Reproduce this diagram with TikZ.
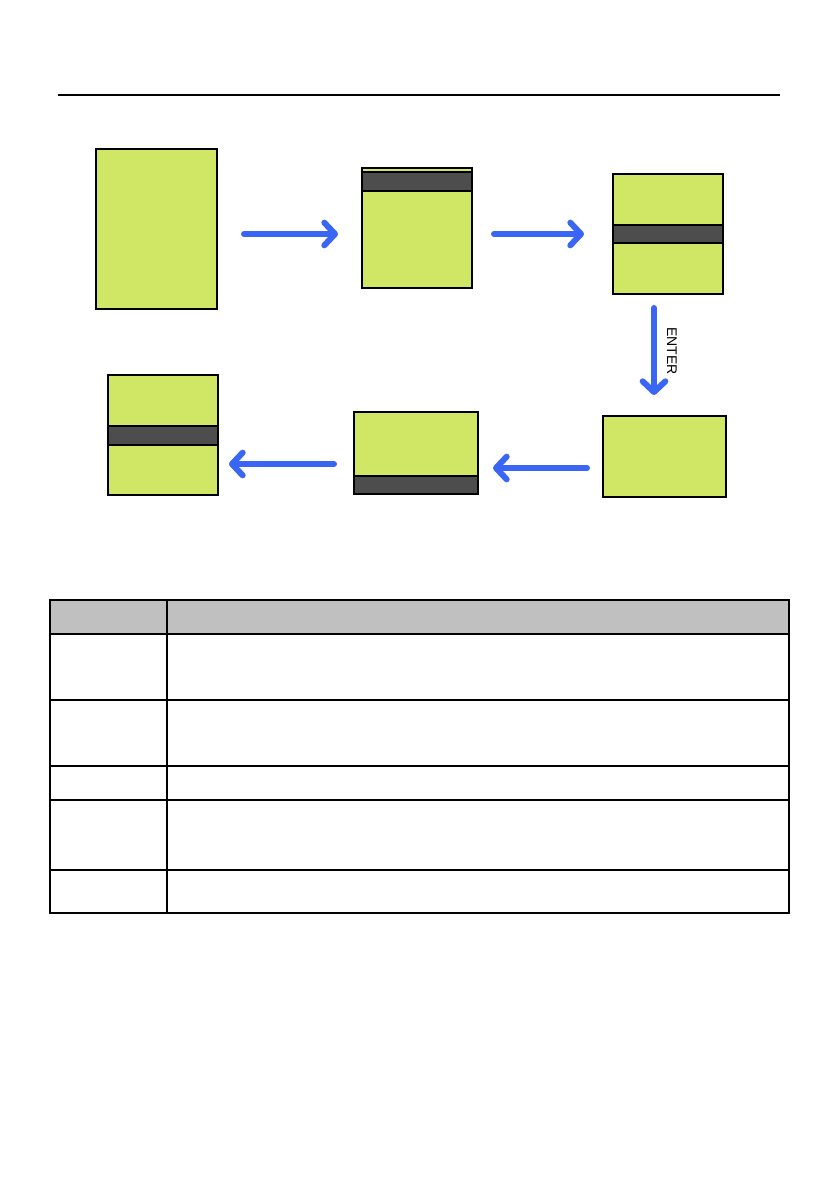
\documentclass[tikz,border=0pt]{standalone}
\usepackage{fontspec}
\setsansfont{Liberation Sans}
\usetikzlibrary{arrows.meta,calc,positioning}
\definecolor{lcdgreen}{RGB}{208,230,101}
\definecolor{lcdbar}{RGB}{77,77,77}
\definecolor{flowblue}{RGB}{58,102,245}
\definecolor{headgray}{RGB}{192,192,192}
\newcommand{\px}{0.75pt}

\begin{document}
\begin{tikzpicture}[x=0.75pt,y=-0.75pt,
    screen/.style={draw=black,line width=0.9pt,fill=lcdgreen,inner sep=0pt,
      outer sep=0pt,anchor=north west},
    lcdbarbox/.style={draw=black,line width=0.9pt,fill=lcdbar,inner sep=0pt,
      outer sep=0pt,anchor=north west},
    flow/.style={draw=flowblue,line width=4.5pt,line cap=round,
      -{Straight Barb[round,length=8pt,width=17pt]}},
    tbl/.style={line width=1pt}]
    \useasboundingbox (0,0) rectangle (839,1191);
    % header rule
    \draw[line width=1pt] (58,95) -- (780,95);
    % screens
    \node[screen,minimum width=121*\px,minimum height=160*\px] (box1) at (96,149) {};
    \node[screen,minimum width=110*\px,minimum height=120*\px] (box2) at (362,168) {};
    \node[lcdbarbox,minimum width=110*\px,minimum height=19*\px] (bar2) at (362,172) {};
    \node[screen,minimum width=110*\px,minimum height=120*\px] (box3) at (613,174) {};
    \node[lcdbarbox,minimum width=110*\px,minimum height=18*\px] (bar3) at (613,225) {};
    \node[screen,minimum width=123*\px,minimum height=81*\px] (box4) at (603,416) {};
    \node[screen,minimum width=124*\px,minimum height=82*\px] (box5) at (354,412) {};
    \node[lcdbarbox,minimum width=124*\px,minimum height=18*\px] (bar5) at (354,476) {};
    \node[screen,minimum width=110*\px,minimum height=120*\px] (box6) at (108,375) {};
    \node[lcdbarbox,minimum width=110*\px,minimum height=19*\px] (bar6) at (108,426) {};
    % arrows
    \draw[flow] ($(box1.east)+(27,5)$) -- ($(box2.west)+(-24,6)$);
    \draw[flow] ($(box2.east)+(22,6)$) -- ($(box3.west)+(-29,0)$);
    \draw[flow] ($(box3.south)+(-14,14)$) -- ($(box4.north)+(-10.5,-21)$);
    \node[rotate=-90,font=\sffamily\fontsize{10.5}{12}\selectfont] (enter) at (672,351) {ENTER};
    \draw[flow] ($(box4.west)+(-16,11.5)$) -- ($(box5.east)+(15,15)$);
    \draw[flow] ($(box5.west)+(-20,11)$) -- ($(box6.east)+(11,29)$);
    % table
    \fill[headgray] (50,600) rectangle (789,634);
    \draw[tbl] (50,600) rectangle (789,913);
    \draw[tbl] (167,600) -- (167,913);
    \foreach \y in {634,700,766,800,870}
      \draw[tbl] (50,\y) -- (789,\y);
\end{tikzpicture}
\end{document}
